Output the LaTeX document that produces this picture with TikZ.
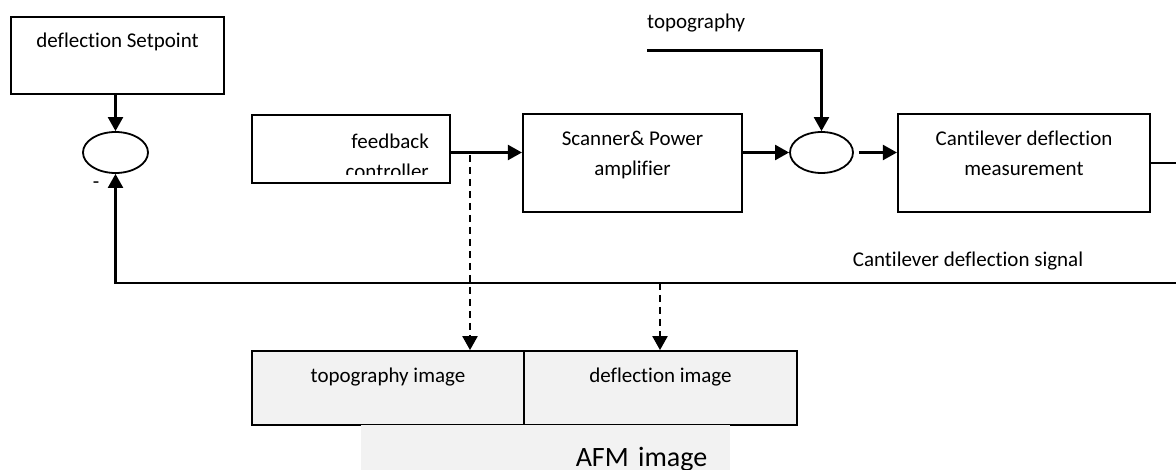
\documentclass[tikz,border=0pt]{standalone}
\usepackage{fontspec}
\setmainfont{Carlito}[Ligatures=NoCommon]
\usetikzlibrary{arrows.meta,shapes.geometric}
\definecolor{imgfill}{HTML}{F2F2F2}
\begin{document}
\begin{tikzpicture}[x=1pt,y=-1pt,
    font=\fontsize{21}{30}\selectfont,
    block/.style={draw,line width=2.2pt,rectangle,align=center,inner sep=0pt},
    sumnode/.style={draw,line width=1.8pt,ellipse,minimum width=63pt,minimum height=41pt,inner sep=0pt},
    imgbox/.style={block,line width=1.8pt,fill=imgfill,minimum width=272pt,minimum height=74pt,text depth=25.7pt},
    lbl/.style={inner sep=0pt},
    sig/.style={line width=2.3pt,-{Triangle[length=14pt,width=15pt]}},
    tap/.style={sig,dash pattern=on 7pt off 5pt}]
  \useasboundingbox (0,0) rectangle (1176,470);
  \clip (0,0) rectangle (1176,470);
  \draw
    (117.5,55.5) node[block,minimum width=213pt,minimum height=77pt,text depth=30.7pt] (sp){deflection Setpoint}
    (115.5,152.5) node[sumnode,minimum width=65pt] (sum1){}
    (351,149) node[block,minimum width=198pt,minimum height=68pt] (fb){}
    (632.5,163) node[block,minimum width=219pt,minimum height=98pt,text depth=19.6pt] (scan){Scanner\& Power\\amplifier}
    (821.5,152.5) node[sumnode] (sum2){}
    (1024,163) node[block,minimum width=252pt,minimum height=98pt,text depth=19.6pt] (cant){Cantilever deflection\\measurement}
    (388,388) node[imgbox] (timg){topography image}
    (660.5,388) node[imgbox,minimum width=273pt] (dimg){deflection image}
    (361,425) node[fill=imgfill,anchor=north west,minimum width=369pt,minimum height=50pt,
      text width=323pt,inner xsep=23pt,inner ysep=0pt,align=right,text height=38pt,
      font=\fontsize{28}{34}\selectfont] (afm){AFM image}
    (647,23) node[lbl,anchor=west] (topolbl){topography}
    (968,261) node[lbl] (siglbl){Cantilever deflection signal}
    (96,185) node[lbl] (minus){-};
  \begin{scope}
    \clip (fb.north west) rectangle ([yshift=10pt]fb.south east);
    \node[lbl,align=right,anchor=east] (fbtxt) at (429,156) {feedback\\controller};
  \end{scope}
  \coordinate (loop) at (1190,283);
  \coordinate (topo) at (647,50.5);
  \coordinate (tap1) at (470,155);
  \coordinate (tap2) at (660,283);
  \begin{scope}[sig]
    \draw (sp.south -| sum1) to (sum1.north);
    \draw (cant.east) -| (loop) -| (sum1.south);
    \draw (fb.east |- sum2) to (scan.west |- sum2);
    \draw (scan.east |- sum2) to (sum2.west);
    \draw[shorten <=5pt] (sum2.east) to (cant.west |- sum2);
    \draw (topo) -| (sum2.north);
  \end{scope}
  \begin{scope}[tap]
    \draw (tap1) to (tap1 |- timg.north);
    \draw (tap2) to (tap2 |- dimg.north);
  \end{scope}
\end{tikzpicture}
\end{document}
